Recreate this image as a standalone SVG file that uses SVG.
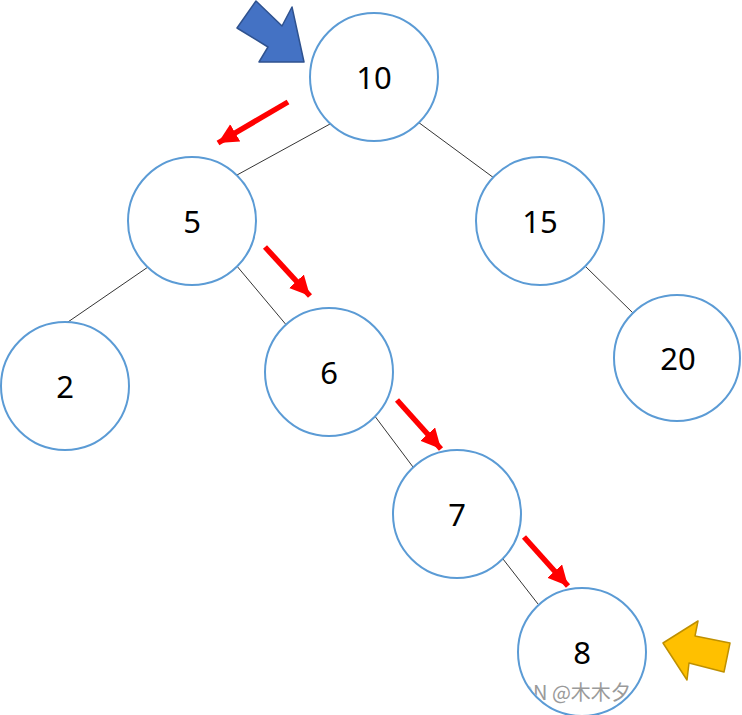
<svg xmlns="http://www.w3.org/2000/svg" width="742" height="715" viewBox="0 0 742 715">
<style>
.node circle{fill:#fff;stroke:#5B9BD5;stroke-width:2}
.node text{font-family:"Noto Sans","Liberation Sans",sans-serif;font-size:31px;fill:#000;text-anchor:middle;dominant-baseline:central}
.edge{stroke:#000;stroke-width:0.8}
.red{stroke:#FF0000;stroke-width:5.5;marker-end:url(#rh)}
</style>
<defs>
<marker id="rh" markerUnits="userSpaceOnUse" markerWidth="24" markerHeight="22" refX="20" refY="10" orient="auto" viewBox="0 0 24 22">
<polygon points="0,0 20,10 0,20" fill="#FF0000"/>
</marker>
<clipPath id="c8"><circle cx="582" cy="652" r="63"/></clipPath>
</defs>
<rect width="742" height="715" fill="#fff"/>
<g id="connectors">
<line class="edge" x1="330" y1="124" x2="237" y2="175"/>
<line class="edge" x1="418" y1="122" x2="494" y2="178"/>
<line class="edge" x1="148" y1="267" x2="65" y2="324"/>
<line class="edge" x1="236" y1="265" x2="288" y2="327"/>
<line class="edge" x1="585" y1="266" x2="634" y2="314"/>
<line class="edge" x1="374" y1="415" x2="413" y2="467"/>
<line class="edge" x1="503" y1="559" x2="538" y2="604"/>
</g>
<g id="n10" class="node"><circle cx="374" cy="77" r="64"/><text x="374" y="77">10</text></g>
<g id="n5" class="node"><circle cx="192" cy="221" r="64"/><text x="192" y="221">5</text></g>
<g id="n15" class="node"><circle cx="540" cy="221" r="64"/><text x="540" y="221">15</text></g>
<g id="n2" class="node"><circle cx="65" cy="386" r="64"/><text x="65" y="386">2</text></g>
<g id="n6" class="node"><circle cx="329" cy="372" r="64"/><text x="329" y="372">6</text></g>
<g id="n20" class="node"><circle cx="677" cy="358" r="63"/><text x="678" y="358">20</text></g>
<g id="n7" class="node"><circle cx="457" cy="514" r="64"/><text x="457" y="514">7</text></g>
<g id="n8" class="node"><circle cx="582" cy="652" r="64"/><text x="582" y="652">8</text></g>
<g id="red-arrows">
<line class="red" x1="288" y1="102" x2="218" y2="143"/>
<line class="red" x1="265" y1="247" x2="310" y2="296"/>
<line class="red" x1="397" y1="400" x2="441" y2="449"/>
<line class="red" x1="524" y1="537" x2="568" y2="586"/>
</g>
<g id="blue-arrow"><polygon points="256,1 282,26 292,7 304,62 259,62 268,47 237,28" fill="#4472C4" stroke="#2F528F" stroke-width="1.5" stroke-linejoin="round"/></g>
<g id="yellow-arrow"><polygon points="663,643 698,621 695,636 730,643 724,672 689,663 687,680" fill="#FFC000" stroke="#BF9000" stroke-width="1.5" stroke-linejoin="round"/></g>
<text x="573" y="700" clip-path="url(#c8)" font-family="'Noto Sans CJK SC',sans-serif" font-size="20" fill="#9a9a9a" text-anchor="middle">CSDN @木木夕夕</text>
</svg>
